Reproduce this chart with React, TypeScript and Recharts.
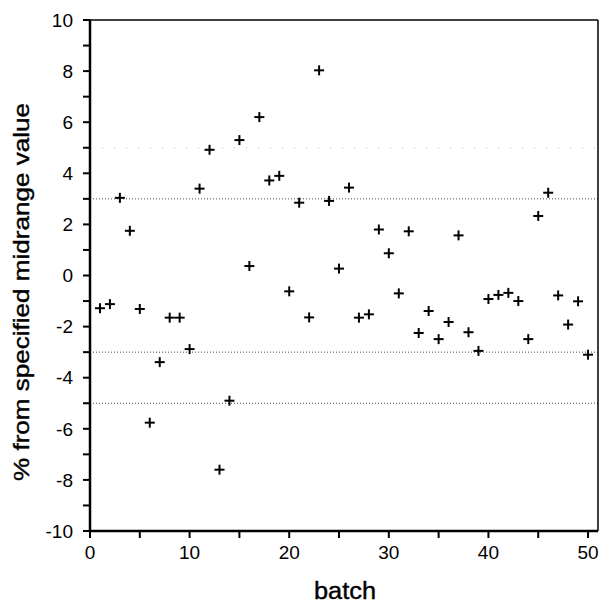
import { ScatterChart, Scatter, XAxis, YAxis, ReferenceLine } from 'recharts';

const batches = [
  1, 2, 3, 4, 5, 6, 7, 8, 9, 10, 11, 12, 13, 14, 15, 16, 17, 18, 19, 20, 21, 22, 23, 24, 25,
  26, 27, 28, 29, 30, 31, 32, 33, 34, 35, 36, 37, 38, 39, 40, 41, 42, 43, 44, 45, 46, 47, 48, 49, 50,
];
const deviations = [
  -1.28, -1.12, 3.04, 1.75, -1.31, -5.76, -3.39, -1.65, -1.65, -2.88, 3.4, 4.92, -7.6, -4.9, 5.3,
  0.37, 6.2, 3.72, 3.9, -0.62, 2.85, -1.64, 8.03, 2.92, 0.27, 3.44, -1.65, -1.52, 1.8, 0.87, -0.7,
  1.73, -2.25, -1.39, -2.49, -1.82, 1.57, -2.22, -2.95, -0.92, -0.76, -0.68, -1.0, -2.49, 2.33, 3.24,
  -0.78, -1.92, -1.01, -3.1,
];
const yTicks = [-10, -9, -8, -7, -6, -5, -4, -3, -2, -1, 0, 1, 2, 3, 4, 5, 6, 7, 8, 9, 10];
const xTicks = [0, 5, 10, 15, 20, 25, 30, 35, 40, 45, 50];
const limitLines = [3, -3, -5];

const FONT = '"Liberation Sans", Arial, Helvetica, sans-serif';

const data = batches.map((b, i) => ({ batch: b, dev: deviations[i] }));

// only every other tick gets a number, like the original
const yFormat = (v: number) => (v % 2 === 0 ? String(v) : '');
const xFormat = (v: number) => (v % 10 === 0 ? String(v) : '');

function Plus({ cx, cy }: any) {
  const a = 5;
  return (
    <g stroke="#000" strokeWidth={2}>
      <line x1={cx - a} x2={cx + a} y1={cy} y2={cy} />
      <line x1={cx} x2={cx} y1={cy - a} y2={cy + a} />
    </g>
  );
}

function YLabel() {
  return (
    <text
      transform="translate(29, 292) rotate(-90)"
      textAnchor="middle"
      fontSize={22}
      fontFamily={FONT}
      fill="#000"
      stroke="#000"
      strokeWidth={0.4}
      textLength={378}
      lengthAdjust="spacingAndGlyphs"
    >
      % from specified midrange value
    </text>
  );
}

function XLabel() {
  return (
    <text
      x={345}
      y={599}
      textAnchor="middle"
      fontSize={23}
      fontFamily={FONT}
      fill="#000"
      stroke="#000"
      strokeWidth={0.4}
      textLength={62}
      lengthAdjust="spacingAndGlyphs"
    >
      batch
    </text>
  );
}

export default function App() {
  return (
    <div style={{ position: 'absolute', left: 0, top: 0, background: '#fff', fontFamily: FONT, fontSize: 19 }}>
      <ScatterChart width={602} height={604} margin={{ top: 20, right: 4, bottom: 0, left: 0 }}>
        <XAxis
          type="number"
          dataKey="batch"
          domain={[0, 51]}
          ticks={xTicks}
          interval={0}
          height={73}
          tickSize={7}
          tickMargin={8}
          tickFormatter={xFormat}
          stroke="#000"
          tickLine={{ stroke: '#000', strokeWidth: 2 }}
          axisLine={{ stroke: '#000', strokeWidth: 2.5 }}
          label={<XLabel />}
        />
        <YAxis
          type="number"
          dataKey="dev"
          domain={[-10, 10]}
          ticks={yTicks}
          interval={0}
          width={90}
          tickSize={7}
          tickMargin={10}
          tickFormatter={yFormat}
          stroke="#000"
          tickLine={{ stroke: '#000', strokeWidth: 2 }}
          axisLine={{ stroke: '#000', strokeWidth: 2.5 }}
          label={<YLabel />}
        />
        <ReferenceLine y={5} stroke="#bbb" strokeWidth={1} strokeDasharray="1 11" />
        {limitLines.map((v) => (
          <ReferenceLine key={v} y={v} stroke="#444" strokeWidth={1} strokeDasharray="1 2" />
        ))}
        <ReferenceLine y={10} stroke="#000" strokeWidth={1.5} />
        <ReferenceLine x={51} stroke="#000" strokeWidth={1.5} />
        <Scatter data={data} fill="#000" shape={<Plus />} isAnimationActive={false} />
      </ScatterChart>
    </div>
  );
}
